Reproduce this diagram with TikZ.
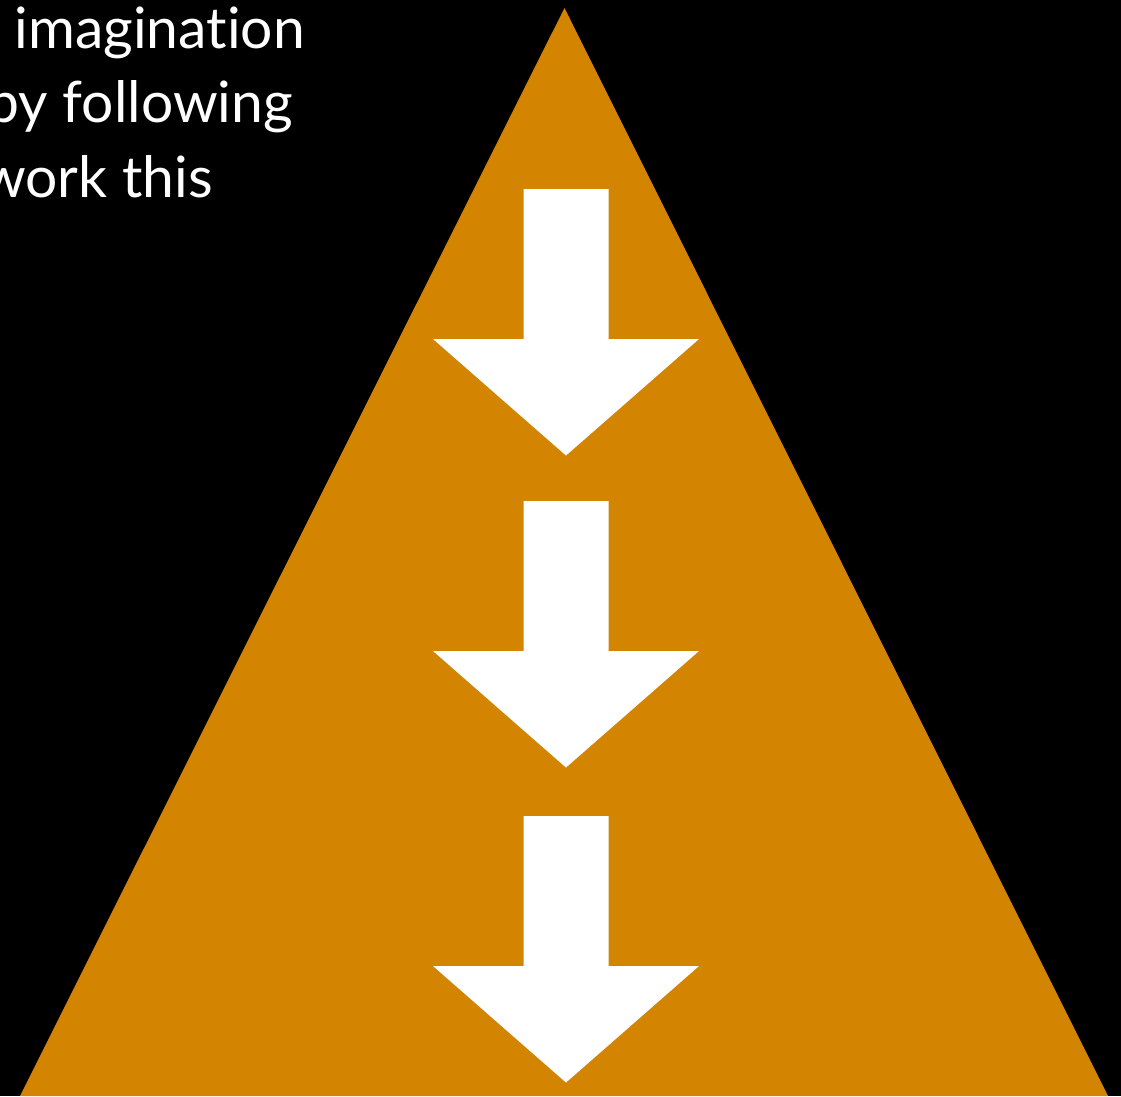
\documentclass[tikz,border=0pt]{standalone}
\usepackage{fontspec}
\setmainfont[Ligatures={NoCommon,NoRare}]{Lato}
\definecolor{tri}{RGB}{211,132,0}
\begin{document}
\begin{tikzpicture}[x=1pt,y=-1pt,
  txt/.style={text=white,font=\fontsize{57}{68}\selectfont,inner sep=0pt,anchor=base east},
  arr/.style={fill=white,draw=none}]
\useasboundingbox (0,0) rectangle (1121,1096);
\clip (0,0) rectangle (1121,1096);
\fill[black] (0,0) rectangle (1121,1096);
\fill[tri] (564.5,8) -- (1108,1096) -- (20,1096) -- cycle;
\foreach \t in {189,501,816}{
  \fill[arr] (523.5,\t) -- (608.5,\t) -- (608.5,\t+150) -- (699,\t+150)
    -- (566,\t+266.5) -- (433,\t+150) -- (523.5,\t+150) -- cycle;
}
\node[txt] (l1) at (305,48) {imagination};
\node[txt] (l2) at (293,122) {by following};
\node[txt] (l3) at (213,197) {work this};
\end{tikzpicture}
\end{document}
